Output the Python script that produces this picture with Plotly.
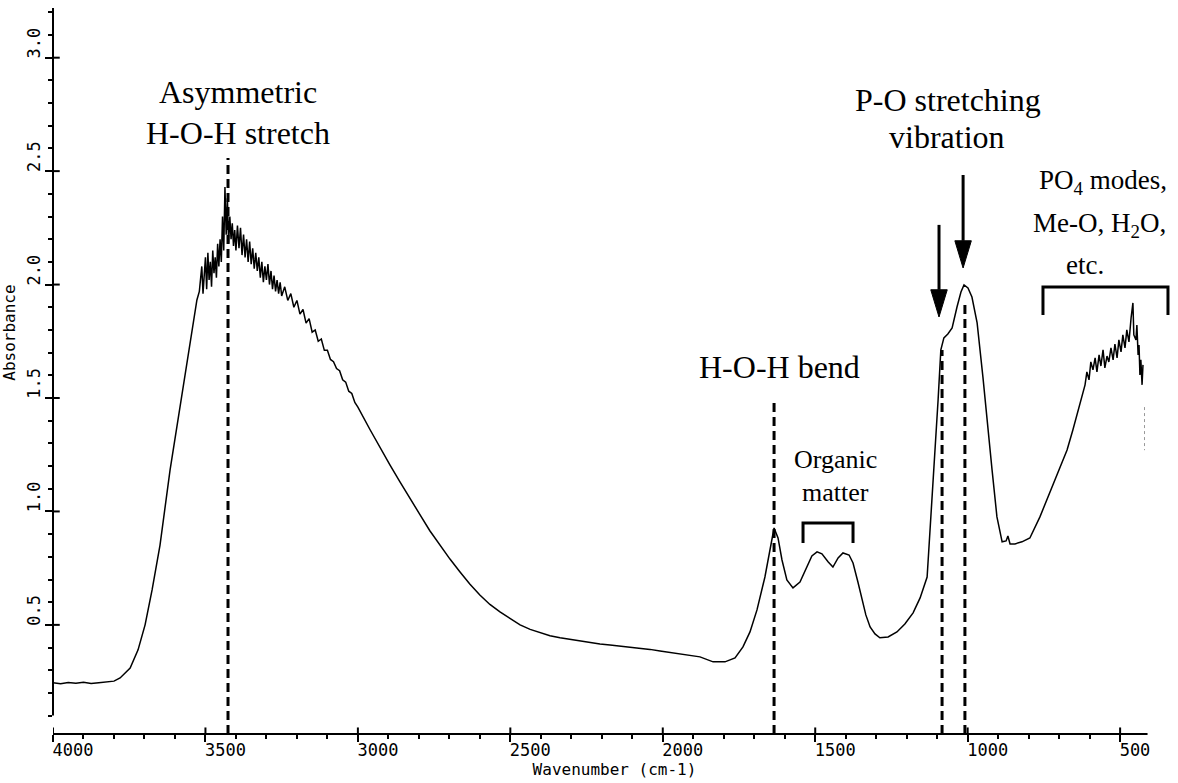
import plotly.graph_objects as go

# ---------------- data ----------------
wavenumber = [
    4000, 3975, 3950, 3925, 3900, 3875, 3850, 3825, 3800, 3780, 3747, 3721, 3698, 3675, 3649, 3616,
    3583, 3551, 3528, 3520, 3512, 3508,
    3500, 3496, 3492, 3488, 3484, 3480, 3476, 3472, 3468, 3464, 3460, 3456, 3452, 3448, 3444, 3440,
    3436, 3432, 3428, 3424, 3420, 3416, 3412, 3408, 3404, 3400, 3395, 3390, 3385, 3380, 3375, 3370,
    3365, 3360, 3355, 3350, 3345, 3340, 3335, 3330, 3325, 3320, 3315, 3310, 3305, 3300, 3295, 3290,
    3285, 3280, 3275, 3270, 3265, 3260, 3255, 3250, 3240, 3230, 3220, 3210, 3200, 3190, 3180, 3170,
    3160, 3150, 3140, 3130, 3120, 3110, 3100, 3090, 3080, 3070, 3060, 3050, 3040, 3030, 3020, 3010,
    3000,
    2960, 2927, 2895, 2862, 2829, 2796, 2764, 2731, 2698, 2665, 2633, 2600, 2567, 2534, 2500, 2468,
    2435, 2403, 2370, 2337, 2305, 2272, 2240, 2206, 2173, 2140, 2108, 2075, 2042, 2009, 1976, 1944,
    1911, 1878, 1835, 1796, 1763, 1737, 1714, 1691, 1665, 1648, 1635, 1622, 1609, 1593, 1573, 1550,
    1527, 1511, 1494, 1478, 1458, 1442, 1425, 1409, 1389, 1376, 1360, 1347, 1334, 1320, 1304, 1288,
    1261, 1232, 1206, 1179, 1156, 1133, 1120, 1107, 1097, 1088, 1078, 1065, 1051, 1035, 1022, 1012,
    999, 986, 969, 950, 933, 920, 904, 887, 874, 868, 861, 845, 822, 796, 763, 730,
    697, 674, 655, 638, 622,
    615, 609, 602, 596, 589, 582, 576, 569, 563, 556, 550, 543, 537, 530, 523, 517,
    510, 504, 497, 491, 484, 478, 471, 464, 458, 455, 448, 445, 441, 438, 435, 432,
    428, 425,
]
absorbance = [
    0.245, 0.241, 0.246, 0.243, 0.247, 0.242, 0.245, 0.248, 0.252, 0.266, 0.310, 0.390, 0.500, 0.654, 0.852, 1.183,
    1.469, 1.734, 1.932, 1.97, 2.08, 1.96,
    2.12, 1.98, 2.14, 2.02, 2.10, 1.99, 2.15, 2.05, 2.12, 2.03, 2.18, 2.08, 2.20, 2.10, 2.30, 2.15,
    2.43, 2.22, 2.38, 2.18, 2.30, 2.20, 2.27, 2.17, 2.24, 2.15, 2.26, 2.16, 2.25, 2.13, 2.22, 2.12,
    2.20, 2.10, 2.19, 2.09, 2.16, 2.07, 2.14, 2.06, 2.12, 2.03, 2.10, 2.01, 2.08, 2.02, 2.09, 2.00,
    2.06, 1.98, 2.04, 1.97, 2.02, 1.96, 2.01, 1.95, 1.99, 1.93, 1.96, 1.90, 1.93, 1.87, 1.89, 1.83,
    1.85, 1.79, 1.80, 1.75, 1.76, 1.71, 1.71, 1.67, 1.66, 1.63, 1.62, 1.58, 1.57, 1.53, 1.52, 1.48,
    1.46,
    1.36, 1.28, 1.205, 1.13, 1.055, 0.985, 0.915, 0.852, 0.79, 0.733, 0.68, 0.632, 0.59, 0.557, 0.527, 0.50,
    0.48, 0.465, 0.452, 0.443, 0.436, 0.429, 0.422, 0.416, 0.411, 0.407, 0.402, 0.398, 0.392, 0.385, 0.379, 0.372,
    0.366, 0.359, 0.337, 0.337, 0.354, 0.403, 0.469, 0.566, 0.711, 0.839, 0.927, 0.883, 0.786, 0.698, 0.663, 0.689,
    0.755, 0.804, 0.822, 0.813, 0.778, 0.755, 0.795, 0.817, 0.808, 0.773, 0.689, 0.610, 0.544, 0.491, 0.460, 0.443,
    0.447, 0.469, 0.504, 0.553, 0.619, 0.711, 0.976, 1.271, 1.491, 1.712, 1.765, 1.782, 1.809, 1.901, 1.967, 1.998,
    1.985, 1.945, 1.831, 1.593, 1.346, 1.183, 0.976, 0.866, 0.870, 0.892, 0.857, 0.857, 0.866, 0.883, 0.976, 1.086,
    1.196, 1.271, 1.359, 1.447, 1.527,
    1.558, 1.615, 1.580, 1.659, 1.624, 1.677, 1.615, 1.690, 1.641, 1.712, 1.633, 1.685, 1.659, 1.721, 1.668, 1.738,
    1.677, 1.756, 1.703, 1.778, 1.721, 1.800, 1.747, 1.853, 1.919, 1.778, 1.756, 1.822, 1.690, 1.734, 1.602, 1.668,
    1.558, 1.646,
]

# faint plotter artefact below the end of the trace
artifact_wn = [420, 420]
artifact_abs = [1.46, 1.27]

x_tick_values = [4000, 3500, 3000, 2500, 2000, 1500, 1000, 500]
x_tick_labels = ["4000", "3500", "3000", "2500", "2000", "1500", "1000", "500\u00a0"]
x_minor_values = list(range(4000, 499, -100))
y_tick_values = [0.5, 1.0, 1.5, 2.0, 2.5, 3.0]
y_tick_labels = ["0.5", "1.0", "1.5", "2.0", "2.5", "3.0"]

# band markers (dashed lines): position and top of each line
band_positions = [3426, 1635, 1084, 1009]
band_tops = [2.558, 1.483, 1.712, 1.910]

# arrows: wavenumber, tail absorbance, tip absorbance
arrow_positions = [1094, 1015]
arrow_tails = [2.263, 2.483]
arrow_tips = [1.857, 2.073]
ARROW_HALF_WIDTH = 27     # in wavenumber units
ARROW_HEAD_LEN = 0.12     # in absorbance units

# brackets: (left wn, right wn, top, leg bottom)
brackets = [(1540, 1376, 0.949, 0.861), (753, 343, 1.989, 1.866)]

X_END = 410
X_RANGE = [4000, 316.7]
Y_RANGE = [0.019, 3.219]

PLOT_FONT = "DejaVu Sans Mono"
SERIF = "Liberation Serif, Times New Roman, serif"

fig = go.Figure()
fig.add_trace(go.Scatter(x=wavenumber, y=absorbance, mode="lines",
                         line=dict(color="black", width=1.5), hoverinfo="skip", cliponaxis=False))
fig.add_trace(go.Scatter(x=artifact_wn, y=artifact_abs, mode="lines",
                         line=dict(color="#999999", width=1, dash="dot"), hoverinfo="skip"))

shapes = []
# axis lines
shapes.append(dict(type="line", xref="x", yref="paper", x0=4000, x1=X_END, y0=0, y1=0,
                   line=dict(color="black", width=2)))
shapes.append(dict(type="line", xref="paper", yref="y", x0=0, x1=0, y0=0.1, y1=Y_RANGE[1],
                   line=dict(color="black", width=2)))
# inner halves of the crossing major ticks
for v in y_tick_values:
    shapes.append(dict(type="line", xref="paper", yref="y", x0=0, x1=0.006, y0=v, y1=v,
                       line=dict(color="black", width=2)))
for v in x_tick_values:
    shapes.append(dict(type="line", xref="x", yref="paper", x0=v, x1=v, y0=0, y1=0.009,
                       line=dict(color="black", width=2)))
# dashed band lines
for pos, top in zip(band_positions, band_tops):
    shapes.append(dict(type="line", xref="x", yref="y", x0=pos, x1=pos, y0=Y_RANGE[0], y1=top,
                       line=dict(color="black", width=3, dash="9px,5px")))
# brackets
for x0, x1, top, leg in brackets:
    shapes.append(dict(type="path", xref="x", yref="y",
                       path=f"M {x0},{leg} L {x0},{top} L {x1},{top} L {x1},{leg}",
                       line=dict(color="black", width=3)))
# arrows (shaft + filled head)
for pos, tail, tip in zip(arrow_positions, arrow_tails, arrow_tips):
    base = tip + ARROW_HEAD_LEN
    shapes.append(dict(type="line", xref="x", yref="y", x0=pos, x1=pos, y0=tail, y1=base,
                       line=dict(color="black", width=3)))
    shapes.append(dict(type="path", xref="x", yref="y",
                       path=f"M {pos - ARROW_HALF_WIDTH},{base} L {pos + ARROW_HALF_WIDTH},{base} L {pos},{tip} Z",
                       fillcolor="black", line=dict(color="black", width=1)))

annotations = []

def label(text, x, y, size):
    annotations.append(dict(x=x, y=y, xref="x", yref="y", text=text, showarrow=False,
                            font=dict(family=SERIF, size=size, color="black"),
                            xanchor="center", yanchor="middle"))

label("Asymmetric", 3393, 2.849, 32)
label("H-O-H stretch", 3393, 2.668, 32)
label("P-O stretching", 1065, 2.814, 32)
label("vibration", 1068, 2.651, 32)
label("H-O-H bend", 1616, 1.637, 32)
label("Organic", 1435, 1.227, 26)
label("matter", 1435, 1.082, 26)
label("PO<sub>4</sub> modes,", 556, 2.452, 27)
label("Me-O, H<sub>2</sub>O,", 569, 2.263, 27)
label("etc.", 615, 2.086, 27)

# y-axis title (placed where the plotter wrote it, above the axis middle)
annotations.append(dict(text="Absorbance", xref="paper", yref="paper", x=-0.039, y=0.553,
                        textangle=-90, showarrow=False, xanchor="center", yanchor="middle",
                        font=dict(family=PLOT_FONT, size=16, color="black")))

fig.update_layout(
    width=1178, height=783,
    margin=dict(l=53, r=2, t=8, b=49, autoexpand=False),
    paper_bgcolor="white", plot_bgcolor="white",
    showlegend=False,
    shapes=shapes, annotations=annotations,
    xaxis=dict(range=X_RANGE, showline=False, showgrid=False, zeroline=False, automargin=False,
               tickmode="array", tickvals=x_tick_values, ticktext=x_tick_labels,
               ticks="outside", ticklen=7, tickwidth=2, tickcolor="black",
               ticklabelshift=-20, ticklabelstandoff=-6,
               tickfont=dict(family=PLOT_FONT, size=17, color="black"),
               minor=dict(tickmode="array", tickvals=x_minor_values, ticks="outside",
                          ticklen=4, tickwidth=1.5, tickcolor="black"),
               title=dict(text="Wavenumber (cm-1)", standoff=2,
                          font=dict(family=PLOT_FONT, size=16, color="black"))),
    yaxis=dict(range=Y_RANGE, showline=False, showgrid=False, zeroline=False, automargin=False,
               tickmode="array", tickvals=y_tick_values, ticktext=y_tick_labels,
               tickangle=-90, ticks="outside", ticklen=7, tickwidth=2, tickcolor="black",
               ticklabelshift=-12, ticklabelstandoff=-2,
               tickfont=dict(family=PLOT_FONT, size=17, color="black"),
               minor=dict(tick0=0, dtick=0.1, ticks="outside", ticklen=4, tickwidth=1.5,
                          tickcolor="black")),
)

fig.write_html("out.html", config={"displayModeBar": False},
               post_script="document.body.style.margin='0';document.body.style.overflow='hidden';")
